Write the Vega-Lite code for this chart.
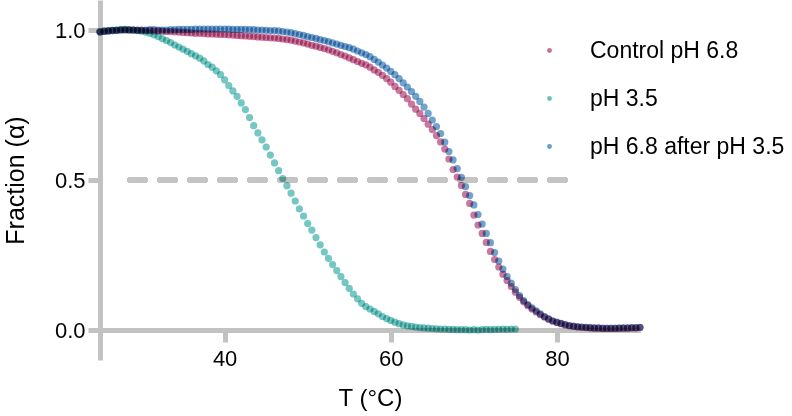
{
  "$schema": "https://vega.github.io/schema/vega-lite/v6.json",
  "width": 540,
  "height": 360,
  "autosize": {"type": "none"},
  "padding": {"left": 100, "top": 0, "right": 152, "bottom": 56},
  "config": {
    "font": "Liberation Sans",
    "view": {"stroke": null},
    "axis": {
      "grid": false,
      "domainColor": "#c2c2c2",
      "domainWidth": 5,
      "tickColor": "#c2c2c2",
      "tickWidth": 5,
      "tickSize": 12,
      "labelFontSize": 22,
      "labelColor": "#000000",
      "titleColor": "#000000",
      "titleFontWeight": "normal"
    },
    "axisX": {"offset": -30, "labelPadding": 6, "titleFontSize": 24, "titlePadding": 17},
    "axisY": {"labelPadding": 3, "titleFontSize": 25, "titlePadding": 26},
    "legend": {
      "orient": "none",
      "legendX": 438,
      "legendY": 39,
      "padding": 0,
      "symbolType": "circle",
      "symbolSize": 24,
      "symbolOpacity": 0.9,
      "symbolStrokeWidth": 0,
      "labelFontSize": 23,
      "labelColor": "#000000",
      "labelOffset": 29,
      "rowPadding": 24,
      "labelLimit": 400
    }
  },
  "data": {
    "values": [
      {"series": "pH 3.5", "T": 25, "f": 0.995}, {"series": "pH 3.5", "T": 25.5, "f": 0.997}, {"series": "pH 3.5", "T": 26, "f": 0.998}, {"series": "pH 3.5", "T": 26.5, "f": 1.0}, {"series": "pH 3.5", "T": 27, "f": 1.0}, {"series": "pH 3.5", "T": 27.5, "f": 1.002}, {"series": "pH 3.5", "T": 28, "f": 1.002}, {"series": "pH 3.5", "T": 28.5, "f": 1.0}, {"series": "pH 3.5", "T": 29, "f": 1.0}, {"series": "pH 3.5", "T": 29.5, "f": 0.998},
      {"series": "pH 3.5", "T": 30, "f": 0.996}, {"series": "pH 3.5", "T": 30.5, "f": 0.993}, {"series": "pH 3.5", "T": 31, "f": 0.989}, {"series": "pH 3.5", "T": 31.5, "f": 0.984}, {"series": "pH 3.5", "T": 32, "f": 0.978}, {"series": "pH 3.5", "T": 32.5, "f": 0.971}, {"series": "pH 3.5", "T": 33, "f": 0.965}, {"series": "pH 3.5", "T": 33.5, "f": 0.958}, {"series": "pH 3.5", "T": 34, "f": 0.95}, {"series": "pH 3.5", "T": 34.5, "f": 0.943},
      {"series": "pH 3.5", "T": 35, "f": 0.936}, {"series": "pH 3.5", "T": 35.5, "f": 0.929}, {"series": "pH 3.5", "T": 36, "f": 0.921}, {"series": "pH 3.5", "T": 36.5, "f": 0.914}, {"series": "pH 3.5", "T": 37, "f": 0.906}, {"series": "pH 3.5", "T": 37.5, "f": 0.897}, {"series": "pH 3.5", "T": 38, "f": 0.885}, {"series": "pH 3.5", "T": 38.5, "f": 0.876}, {"series": "pH 3.5", "T": 39, "f": 0.864}, {"series": "pH 3.5", "T": 39.5, "f": 0.851},
      {"series": "pH 3.5", "T": 40, "f": 0.834}, {"series": "pH 3.5", "T": 40.5, "f": 0.815}, {"series": "pH 3.5", "T": 41, "f": 0.797}, {"series": "pH 3.5", "T": 41.5, "f": 0.779}, {"series": "pH 3.5", "T": 42, "f": 0.757}, {"series": "pH 3.5", "T": 42.5, "f": 0.735}, {"series": "pH 3.5", "T": 43, "f": 0.708}, {"series": "pH 3.5", "T": 43.5, "f": 0.681}, {"series": "pH 3.5", "T": 44, "f": 0.657}, {"series": "pH 3.5", "T": 44.5, "f": 0.634},
      {"series": "pH 3.5", "T": 45, "f": 0.61}, {"series": "pH 3.5", "T": 45.5, "f": 0.583}, {"series": "pH 3.5", "T": 46, "f": 0.557}, {"series": "pH 3.5", "T": 46.5, "f": 0.531}, {"series": "pH 3.5", "T": 47, "f": 0.505}, {"series": "pH 3.5", "T": 47.5, "f": 0.481}, {"series": "pH 3.5", "T": 48, "f": 0.456}, {"series": "pH 3.5", "T": 48.5, "f": 0.43}, {"series": "pH 3.5", "T": 49, "f": 0.404}, {"series": "pH 3.5", "T": 49.5, "f": 0.38},
      {"series": "pH 3.5", "T": 50, "f": 0.355}, {"series": "pH 3.5", "T": 50.5, "f": 0.333}, {"series": "pH 3.5", "T": 51, "f": 0.308}, {"series": "pH 3.5", "T": 51.5, "f": 0.284}, {"series": "pH 3.5", "T": 52, "f": 0.26}, {"series": "pH 3.5", "T": 52.5, "f": 0.239}, {"series": "pH 3.5", "T": 53, "f": 0.218}, {"series": "pH 3.5", "T": 53.5, "f": 0.198}, {"series": "pH 3.5", "T": 54, "f": 0.178}, {"series": "pH 3.5", "T": 54.5, "f": 0.158},
      {"series": "pH 3.5", "T": 55, "f": 0.139}, {"series": "pH 3.5", "T": 55.5, "f": 0.12}, {"series": "pH 3.5", "T": 56, "f": 0.104}, {"series": "pH 3.5", "T": 56.5, "f": 0.089}, {"series": "pH 3.5", "T": 57, "f": 0.078}, {"series": "pH 3.5", "T": 57.5, "f": 0.07}, {"series": "pH 3.5", "T": 58, "f": 0.062}, {"series": "pH 3.5", "T": 58.5, "f": 0.054}, {"series": "pH 3.5", "T": 59, "f": 0.045}, {"series": "pH 3.5", "T": 59.5, "f": 0.038},
      {"series": "pH 3.5", "T": 60, "f": 0.032}, {"series": "pH 3.5", "T": 60.5, "f": 0.026}, {"series": "pH 3.5", "T": 61, "f": 0.021}, {"series": "pH 3.5", "T": 61.5, "f": 0.017}, {"series": "pH 3.5", "T": 62, "f": 0.014}, {"series": "pH 3.5", "T": 62.5, "f": 0.012}, {"series": "pH 3.5", "T": 63, "f": 0.01}, {"series": "pH 3.5", "T": 63.5, "f": 0.008}, {"series": "pH 3.5", "T": 64, "f": 0.007}, {"series": "pH 3.5", "T": 64.5, "f": 0.006},
      {"series": "pH 3.5", "T": 65, "f": 0.005}, {"series": "pH 3.5", "T": 65.5, "f": 0.004}, {"series": "pH 3.5", "T": 66, "f": 0.003}, {"series": "pH 3.5", "T": 66.5, "f": 0.003}, {"series": "pH 3.5", "T": 67, "f": 0.002}, {"series": "pH 3.5", "T": 67.5, "f": 0.002}, {"series": "pH 3.5", "T": 68, "f": 0.001}, {"series": "pH 3.5", "T": 68.5, "f": 0.001}, {"series": "pH 3.5", "T": 69, "f": 0.001}, {"series": "pH 3.5", "T": 69.5, "f": 0.0},
      {"series": "pH 3.5", "T": 70, "f": 0.001}, {"series": "pH 3.5", "T": 70.5, "f": 0.0}, {"series": "pH 3.5", "T": 71, "f": 0.001}, {"series": "pH 3.5", "T": 71.5, "f": 0.002}, {"series": "pH 3.5", "T": 72, "f": 0.001}, {"series": "pH 3.5", "T": 72.5, "f": 0.002}, {"series": "pH 3.5", "T": 73, "f": 0.002}, {"series": "pH 3.5", "T": 73.5, "f": 0.003}, {"series": "pH 3.5", "T": 74, "f": 0.002}, {"series": "pH 3.5", "T": 74.5, "f": 0.003}, {"series": "pH 3.5", "T": 75, "f": 0.003},

      {"series": "Control pH 6.8", "T": 25, "f": 0.994}, {"series": "Control pH 6.8", "T": 25.5, "f": 0.996}, {"series": "Control pH 6.8", "T": 26, "f": 0.997}, {"series": "Control pH 6.8", "T": 26.5, "f": 0.998}, {"series": "Control pH 6.8", "T": 27, "f": 0.999}, {"series": "Control pH 6.8", "T": 27.5, "f": 1.0}, {"series": "Control pH 6.8", "T": 28, "f": 1.0}, {"series": "Control pH 6.8", "T": 28.5, "f": 1.0}, {"series": "Control pH 6.8", "T": 29, "f": 1.0}, {"series": "Control pH 6.8", "T": 29.5, "f": 0.999},
      {"series": "Control pH 6.8", "T": 30, "f": 0.999}, {"series": "Control pH 6.8", "T": 30.5, "f": 0.998}, {"series": "Control pH 6.8", "T": 31, "f": 0.998}, {"series": "Control pH 6.8", "T": 31.5, "f": 0.997}, {"series": "Control pH 6.8", "T": 32, "f": 0.997}, {"series": "Control pH 6.8", "T": 32.5, "f": 0.996}, {"series": "Control pH 6.8", "T": 33, "f": 0.995}, {"series": "Control pH 6.8", "T": 33.5, "f": 0.995}, {"series": "Control pH 6.8", "T": 34, "f": 0.994}, {"series": "Control pH 6.8", "T": 34.5, "f": 0.993},
      {"series": "Control pH 6.8", "T": 35, "f": 0.992}, {"series": "Control pH 6.8", "T": 35.5, "f": 0.991}, {"series": "Control pH 6.8", "T": 36, "f": 0.99}, {"series": "Control pH 6.8", "T": 36.5, "f": 0.989}, {"series": "Control pH 6.8", "T": 37, "f": 0.989}, {"series": "Control pH 6.8", "T": 37.5, "f": 0.988}, {"series": "Control pH 6.8", "T": 38, "f": 0.987}, {"series": "Control pH 6.8", "T": 38.5, "f": 0.987}, {"series": "Control pH 6.8", "T": 39, "f": 0.986}, {"series": "Control pH 6.8", "T": 39.5, "f": 0.985},
      {"series": "Control pH 6.8", "T": 40, "f": 0.985}, {"series": "Control pH 6.8", "T": 40.5, "f": 0.984}, {"series": "Control pH 6.8", "T": 41, "f": 0.983}, {"series": "Control pH 6.8", "T": 41.5, "f": 0.982}, {"series": "Control pH 6.8", "T": 42, "f": 0.981}, {"series": "Control pH 6.8", "T": 42.5, "f": 0.98}, {"series": "Control pH 6.8", "T": 43, "f": 0.979}, {"series": "Control pH 6.8", "T": 43.5, "f": 0.978}, {"series": "Control pH 6.8", "T": 44, "f": 0.977}, {"series": "Control pH 6.8", "T": 44.5, "f": 0.976},
      {"series": "Control pH 6.8", "T": 45, "f": 0.975}, {"series": "Control pH 6.8", "T": 45.5, "f": 0.974}, {"series": "Control pH 6.8", "T": 46, "f": 0.973}, {"series": "Control pH 6.8", "T": 46.5, "f": 0.972}, {"series": "Control pH 6.8", "T": 47, "f": 0.97}, {"series": "Control pH 6.8", "T": 47.5, "f": 0.968}, {"series": "Control pH 6.8", "T": 48, "f": 0.966}, {"series": "Control pH 6.8", "T": 48.5, "f": 0.963}, {"series": "Control pH 6.8", "T": 49, "f": 0.96}, {"series": "Control pH 6.8", "T": 49.5, "f": 0.957},
      {"series": "Control pH 6.8", "T": 50, "f": 0.953}, {"series": "Control pH 6.8", "T": 50.5, "f": 0.949}, {"series": "Control pH 6.8", "T": 51, "f": 0.946}, {"series": "Control pH 6.8", "T": 51.5, "f": 0.942}, {"series": "Control pH 6.8", "T": 52, "f": 0.938}, {"series": "Control pH 6.8", "T": 52.5, "f": 0.934}, {"series": "Control pH 6.8", "T": 53, "f": 0.929}, {"series": "Control pH 6.8", "T": 53.5, "f": 0.924}, {"series": "Control pH 6.8", "T": 54, "f": 0.918}, {"series": "Control pH 6.8", "T": 54.5, "f": 0.913},
      {"series": "Control pH 6.8", "T": 55, "f": 0.907}, {"series": "Control pH 6.8", "T": 55.5, "f": 0.901}, {"series": "Control pH 6.8", "T": 56, "f": 0.895}, {"series": "Control pH 6.8", "T": 56.5, "f": 0.889}, {"series": "Control pH 6.8", "T": 57, "f": 0.884}, {"series": "Control pH 6.8", "T": 57.5, "f": 0.876}, {"series": "Control pH 6.8", "T": 58, "f": 0.867}, {"series": "Control pH 6.8", "T": 58.5, "f": 0.859}, {"series": "Control pH 6.8", "T": 59, "f": 0.849}, {"series": "Control pH 6.8", "T": 59.5, "f": 0.838},
      {"series": "Control pH 6.8", "T": 60, "f": 0.826}, {"series": "Control pH 6.8", "T": 60.5, "f": 0.812}, {"series": "Control pH 6.8", "T": 61, "f": 0.799}, {"series": "Control pH 6.8", "T": 61.5, "f": 0.785}, {"series": "Control pH 6.8", "T": 62, "f": 0.771}, {"series": "Control pH 6.8", "T": 62.5, "f": 0.753}, {"series": "Control pH 6.8", "T": 63, "f": 0.736}, {"series": "Control pH 6.8", "T": 63.5, "f": 0.722}, {"series": "Control pH 6.8", "T": 64, "f": 0.705}, {"series": "Control pH 6.8", "T": 64.5, "f": 0.686},
      {"series": "Control pH 6.8", "T": 65, "f": 0.668}, {"series": "Control pH 6.8", "T": 65.5, "f": 0.648}, {"series": "Control pH 6.8", "T": 66, "f": 0.627}, {"series": "Control pH 6.8", "T": 66.5, "f": 0.603}, {"series": "Control pH 6.8", "T": 67, "f": 0.57}, {"series": "Control pH 6.8", "T": 67.5, "f": 0.535}, {"series": "Control pH 6.8", "T": 68, "f": 0.51}, {"series": "Control pH 6.8", "T": 68.5, "f": 0.482}, {"series": "Control pH 6.8", "T": 69, "f": 0.452}, {"series": "Control pH 6.8", "T": 69.5, "f": 0.422},
      {"series": "Control pH 6.8", "T": 70, "f": 0.383}, {"series": "Control pH 6.8", "T": 70.5, "f": 0.35}, {"series": "Control pH 6.8", "T": 71, "f": 0.322}, {"series": "Control pH 6.8", "T": 71.5, "f": 0.292}, {"series": "Control pH 6.8", "T": 72, "f": 0.262}, {"series": "Control pH 6.8", "T": 72.5, "f": 0.235}, {"series": "Control pH 6.8", "T": 73, "f": 0.21}, {"series": "Control pH 6.8", "T": 73.5, "f": 0.186}, {"series": "Control pH 6.8", "T": 74, "f": 0.165}, {"series": "Control pH 6.8", "T": 74.5, "f": 0.145},
      {"series": "Control pH 6.8", "T": 75, "f": 0.126}, {"series": "Control pH 6.8", "T": 75.5, "f": 0.109}, {"series": "Control pH 6.8", "T": 76, "f": 0.094}, {"series": "Control pH 6.8", "T": 76.5, "f": 0.081}, {"series": "Control pH 6.8", "T": 77, "f": 0.07}, {"series": "Control pH 6.8", "T": 77.5, "f": 0.06}, {"series": "Control pH 6.8", "T": 78, "f": 0.051}, {"series": "Control pH 6.8", "T": 78.5, "f": 0.043}, {"series": "Control pH 6.8", "T": 79, "f": 0.036}, {"series": "Control pH 6.8", "T": 79.5, "f": 0.03},
      {"series": "Control pH 6.8", "T": 80, "f": 0.025}, {"series": "Control pH 6.8", "T": 80.5, "f": 0.021}, {"series": "Control pH 6.8", "T": 81, "f": 0.017}, {"series": "Control pH 6.8", "T": 81.5, "f": 0.014}, {"series": "Control pH 6.8", "T": 82, "f": 0.012}, {"series": "Control pH 6.8", "T": 82.5, "f": 0.01}, {"series": "Control pH 6.8", "T": 83, "f": 0.009}, {"series": "Control pH 6.8", "T": 83.5, "f": 0.008}, {"series": "Control pH 6.8", "T": 84, "f": 0.007}, {"series": "Control pH 6.8", "T": 84.5, "f": 0.006},
      {"series": "Control pH 6.8", "T": 85, "f": 0.006}, {"series": "Control pH 6.8", "T": 85.5, "f": 0.005}, {"series": "Control pH 6.8", "T": 86, "f": 0.005}, {"series": "Control pH 6.8", "T": 86.5, "f": 0.005}, {"series": "Control pH 6.8", "T": 87, "f": 0.005}, {"series": "Control pH 6.8", "T": 87.5, "f": 0.006}, {"series": "Control pH 6.8", "T": 88, "f": 0.006}, {"series": "Control pH 6.8", "T": 88.5, "f": 0.006}, {"series": "Control pH 6.8", "T": 89, "f": 0.007}, {"series": "Control pH 6.8", "T": 89.5, "f": 0.007}, {"series": "Control pH 6.8", "T": 90, "f": 0.008},

      {"series": "pH 6.8 after pH 3.5", "T": 25, "f": 0.993}, {"series": "pH 6.8 after pH 3.5", "T": 25.5, "f": 0.995}, {"series": "pH 6.8 after pH 3.5", "T": 26, "f": 0.997}, {"series": "pH 6.8 after pH 3.5", "T": 26.5, "f": 0.998}, {"series": "pH 6.8 after pH 3.5", "T": 27, "f": 0.999}, {"series": "pH 6.8 after pH 3.5", "T": 27.5, "f": 1.0}, {"series": "pH 6.8 after pH 3.5", "T": 28, "f": 1.001}, {"series": "pH 6.8 after pH 3.5", "T": 28.5, "f": 1.001}, {"series": "pH 6.8 after pH 3.5", "T": 29, "f": 1.0}, {"series": "pH 6.8 after pH 3.5", "T": 29.5, "f": 1.0},
      {"series": "pH 6.8 after pH 3.5", "T": 30, "f": 1.0}, {"series": "pH 6.8 after pH 3.5", "T": 30.5, "f": 1.0}, {"series": "pH 6.8 after pH 3.5", "T": 31, "f": 1.001}, {"series": "pH 6.8 after pH 3.5", "T": 31.5, "f": 1.001}, {"series": "pH 6.8 after pH 3.5", "T": 32, "f": 1.0}, {"series": "pH 6.8 after pH 3.5", "T": 32.5, "f": 1.0}, {"series": "pH 6.8 after pH 3.5", "T": 33, "f": 1.0}, {"series": "pH 6.8 after pH 3.5", "T": 33.5, "f": 1.001}, {"series": "pH 6.8 after pH 3.5", "T": 34, "f": 1.001}, {"series": "pH 6.8 after pH 3.5", "T": 34.5, "f": 1.002},
      {"series": "pH 6.8 after pH 3.5", "T": 35, "f": 1.002}, {"series": "pH 6.8 after pH 3.5", "T": 35.5, "f": 1.002}, {"series": "pH 6.8 after pH 3.5", "T": 36, "f": 1.002}, {"series": "pH 6.8 after pH 3.5", "T": 36.5, "f": 1.003}, {"series": "pH 6.8 after pH 3.5", "T": 37, "f": 1.003}, {"series": "pH 6.8 after pH 3.5", "T": 37.5, "f": 1.003}, {"series": "pH 6.8 after pH 3.5", "T": 38, "f": 1.003}, {"series": "pH 6.8 after pH 3.5", "T": 38.5, "f": 1.003}, {"series": "pH 6.8 after pH 3.5", "T": 39, "f": 1.003}, {"series": "pH 6.8 after pH 3.5", "T": 39.5, "f": 1.003},
      {"series": "pH 6.8 after pH 3.5", "T": 40, "f": 1.003}, {"series": "pH 6.8 after pH 3.5", "T": 40.5, "f": 1.003}, {"series": "pH 6.8 after pH 3.5", "T": 41, "f": 1.002}, {"series": "pH 6.8 after pH 3.5", "T": 41.5, "f": 1.002}, {"series": "pH 6.8 after pH 3.5", "T": 42, "f": 1.002}, {"series": "pH 6.8 after pH 3.5", "T": 42.5, "f": 1.002}, {"series": "pH 6.8 after pH 3.5", "T": 43, "f": 1.001}, {"series": "pH 6.8 after pH 3.5", "T": 43.5, "f": 1.001}, {"series": "pH 6.8 after pH 3.5", "T": 44, "f": 1.0}, {"series": "pH 6.8 after pH 3.5", "T": 44.5, "f": 1.0},
      {"series": "pH 6.8 after pH 3.5", "T": 45, "f": 0.999}, {"series": "pH 6.8 after pH 3.5", "T": 45.5, "f": 0.998}, {"series": "pH 6.8 after pH 3.5", "T": 46, "f": 0.998}, {"series": "pH 6.8 after pH 3.5", "T": 46.5, "f": 0.997}, {"series": "pH 6.8 after pH 3.5", "T": 47, "f": 0.995}, {"series": "pH 6.8 after pH 3.5", "T": 47.5, "f": 0.993}, {"series": "pH 6.8 after pH 3.5", "T": 48, "f": 0.991}, {"series": "pH 6.8 after pH 3.5", "T": 48.5, "f": 0.988}, {"series": "pH 6.8 after pH 3.5", "T": 49, "f": 0.985}, {"series": "pH 6.8 after pH 3.5", "T": 49.5, "f": 0.982},
      {"series": "pH 6.8 after pH 3.5", "T": 50, "f": 0.978}, {"series": "pH 6.8 after pH 3.5", "T": 50.5, "f": 0.975}, {"series": "pH 6.8 after pH 3.5", "T": 51, "f": 0.972}, {"series": "pH 6.8 after pH 3.5", "T": 51.5, "f": 0.968}, {"series": "pH 6.8 after pH 3.5", "T": 52, "f": 0.965}, {"series": "pH 6.8 after pH 3.5", "T": 52.5, "f": 0.961}, {"series": "pH 6.8 after pH 3.5", "T": 53, "f": 0.957}, {"series": "pH 6.8 after pH 3.5", "T": 53.5, "f": 0.953}, {"series": "pH 6.8 after pH 3.5", "T": 54, "f": 0.949}, {"series": "pH 6.8 after pH 3.5", "T": 54.5, "f": 0.945},
      {"series": "pH 6.8 after pH 3.5", "T": 55, "f": 0.941}, {"series": "pH 6.8 after pH 3.5", "T": 55.5, "f": 0.936}, {"series": "pH 6.8 after pH 3.5", "T": 56, "f": 0.93}, {"series": "pH 6.8 after pH 3.5", "T": 56.5, "f": 0.924}, {"series": "pH 6.8 after pH 3.5", "T": 57, "f": 0.918}, {"series": "pH 6.8 after pH 3.5", "T": 57.5, "f": 0.911}, {"series": "pH 6.8 after pH 3.5", "T": 58, "f": 0.902}, {"series": "pH 6.8 after pH 3.5", "T": 58.5, "f": 0.893}, {"series": "pH 6.8 after pH 3.5", "T": 59, "f": 0.883}, {"series": "pH 6.8 after pH 3.5", "T": 59.5, "f": 0.873},
      {"series": "pH 6.8 after pH 3.5", "T": 60, "f": 0.862}, {"series": "pH 6.8 after pH 3.5", "T": 60.5, "f": 0.851}, {"series": "pH 6.8 after pH 3.5", "T": 61, "f": 0.838}, {"series": "pH 6.8 after pH 3.5", "T": 61.5, "f": 0.824}, {"series": "pH 6.8 after pH 3.5", "T": 62, "f": 0.81}, {"series": "pH 6.8 after pH 3.5", "T": 62.5, "f": 0.795}, {"series": "pH 6.8 after pH 3.5", "T": 63, "f": 0.779}, {"series": "pH 6.8 after pH 3.5", "T": 63.5, "f": 0.762}, {"series": "pH 6.8 after pH 3.5", "T": 64, "f": 0.743}, {"series": "pH 6.8 after pH 3.5", "T": 64.5, "f": 0.722},
      {"series": "pH 6.8 after pH 3.5", "T": 65, "f": 0.7}, {"series": "pH 6.8 after pH 3.5", "T": 65.5, "f": 0.678}, {"series": "pH 6.8 after pH 3.5", "T": 66, "f": 0.655}, {"series": "pH 6.8 after pH 3.5", "T": 66.5, "f": 0.626}, {"series": "pH 6.8 after pH 3.5", "T": 67, "f": 0.595}, {"series": "pH 6.8 after pH 3.5", "T": 67.5, "f": 0.567}, {"series": "pH 6.8 after pH 3.5", "T": 68, "f": 0.538}, {"series": "pH 6.8 after pH 3.5", "T": 68.5, "f": 0.509}, {"series": "pH 6.8 after pH 3.5", "T": 69, "f": 0.478}, {"series": "pH 6.8 after pH 3.5", "T": 69.5, "f": 0.448},
      {"series": "pH 6.8 after pH 3.5", "T": 70, "f": 0.417}, {"series": "pH 6.8 after pH 3.5", "T": 70.5, "f": 0.385}, {"series": "pH 6.8 after pH 3.5", "T": 71, "f": 0.353}, {"series": "pH 6.8 after pH 3.5", "T": 71.5, "f": 0.322}, {"series": "pH 6.8 after pH 3.5", "T": 72, "f": 0.291}, {"series": "pH 6.8 after pH 3.5", "T": 72.5, "f": 0.258}, {"series": "pH 6.8 after pH 3.5", "T": 73, "f": 0.23}, {"series": "pH 6.8 after pH 3.5", "T": 73.5, "f": 0.203}, {"series": "pH 6.8 after pH 3.5", "T": 74, "f": 0.178}, {"series": "pH 6.8 after pH 3.5", "T": 74.5, "f": 0.156},
      {"series": "pH 6.8 after pH 3.5", "T": 75, "f": 0.135}, {"series": "pH 6.8 after pH 3.5", "T": 75.5, "f": 0.115}, {"series": "pH 6.8 after pH 3.5", "T": 76, "f": 0.098}, {"series": "pH 6.8 after pH 3.5", "T": 76.5, "f": 0.085}, {"series": "pH 6.8 after pH 3.5", "T": 77, "f": 0.074}, {"series": "pH 6.8 after pH 3.5", "T": 77.5, "f": 0.064}, {"series": "pH 6.8 after pH 3.5", "T": 78, "f": 0.054}, {"series": "pH 6.8 after pH 3.5", "T": 78.5, "f": 0.045}, {"series": "pH 6.8 after pH 3.5", "T": 79, "f": 0.037}, {"series": "pH 6.8 after pH 3.5", "T": 79.5, "f": 0.03},
      {"series": "pH 6.8 after pH 3.5", "T": 80, "f": 0.026}, {"series": "pH 6.8 after pH 3.5", "T": 80.5, "f": 0.022}, {"series": "pH 6.8 after pH 3.5", "T": 81, "f": 0.018}, {"series": "pH 6.8 after pH 3.5", "T": 81.5, "f": 0.015}, {"series": "pH 6.8 after pH 3.5", "T": 82, "f": 0.013}, {"series": "pH 6.8 after pH 3.5", "T": 82.5, "f": 0.011}, {"series": "pH 6.8 after pH 3.5", "T": 83, "f": 0.01}, {"series": "pH 6.8 after pH 3.5", "T": 83.5, "f": 0.009}, {"series": "pH 6.8 after pH 3.5", "T": 84, "f": 0.008}, {"series": "pH 6.8 after pH 3.5", "T": 84.5, "f": 0.007},
      {"series": "pH 6.8 after pH 3.5", "T": 85, "f": 0.007}, {"series": "pH 6.8 after pH 3.5", "T": 85.5, "f": 0.006}, {"series": "pH 6.8 after pH 3.5", "T": 86, "f": 0.006}, {"series": "pH 6.8 after pH 3.5", "T": 86.5, "f": 0.006}, {"series": "pH 6.8 after pH 3.5", "T": 87, "f": 0.006}, {"series": "pH 6.8 after pH 3.5", "T": 87.5, "f": 0.006}, {"series": "pH 6.8 after pH 3.5", "T": 88, "f": 0.007}, {"series": "pH 6.8 after pH 3.5", "T": 88.5, "f": 0.007}, {"series": "pH 6.8 after pH 3.5", "T": 89, "f": 0.008}, {"series": "pH 6.8 after pH 3.5", "T": 89.5, "f": 0.008}, {"series": "pH 6.8 after pH 3.5", "T": 90, "f": 0.009}
    ]
  },
  "layer": [
    {
      "mark": {"type": "rule", "color": "#c4c4c4", "strokeWidth": 5, "strokeDash": [15, 15], "strokeCap": "round"},
      "encoding": {
        "x": {"datum": 28.6, "type": "quantitative", "scale": {"domain": [25, 90], "nice": false, "zero": false}},
        "x2": {"datum": 81.2},
        "y": {"datum": 0.5, "type": "quantitative", "scale": {"domain": [-0.1, 1.1], "nice": false, "zero": false}}
      }
    },
    {
      "mark": {"type": "circle", "size": 52, "opacity": 0.85, "blend": "multiply"},
      "encoding": {
        "x": {
          "field": "T", "type": "quantitative",
          "scale": {"domain": [25, 90], "nice": false, "zero": false},
          "axis": {"title": "T (°C)", "values": [40, 60, 80], "format": "d"}
        },
        "y": {
          "field": "f", "type": "quantitative",
          "scale": {"domain": [-0.1, 1.1], "nice": false, "zero": false},
          "axis": {"title": "Fraction (α)", "values": [0, 0.5, 1], "format": ".1f"}
        },
        "color": {
          "field": "series", "type": "nominal",
          "scale": {"domain": ["Control pH 6.8", "pH 3.5", "pH 6.8 after pH 3.5"], "range": ["#c2608f", "#5bbdb8", "#5893c4"]},
          "legend": {"title": null}
        }
      }
    }
  ]
}
